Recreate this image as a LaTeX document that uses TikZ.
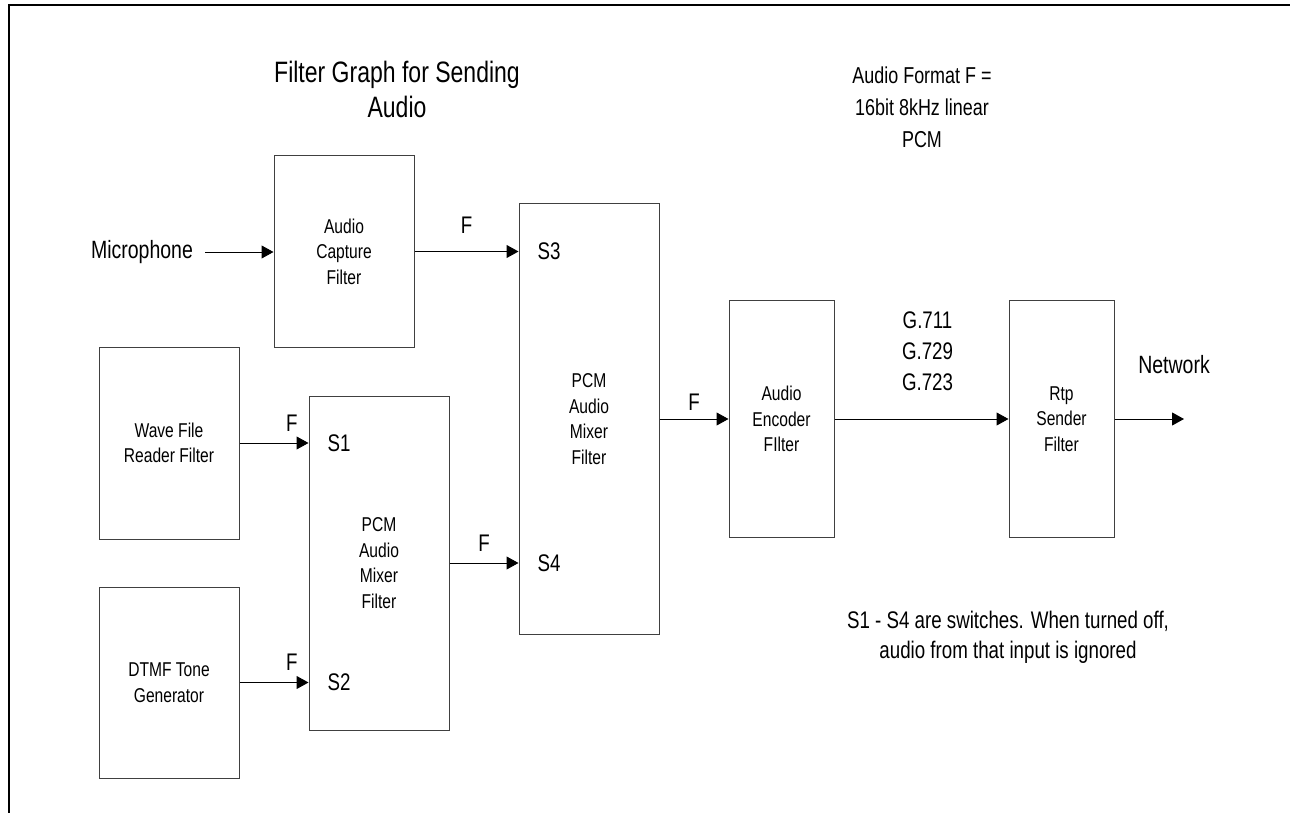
\documentclass[tikz,border=0pt]{standalone}
\usepackage{fontspec}
\setmainfont{Liberation Sans}[FakeStretch=0.78]
\usetikzlibrary{arrows.meta,positioning}

\begin{document}
\begin{tikzpicture}[x=1pt, y=-1pt,
    filterbox/.style={draw=black!75, line width=1pt, rectangle, minimum width=140pt, align=center, inner sep=0pt, font=\fontsize{20}{25.5}\selectfont},
    flow/.style={-{Triangle[length=12pt,width=13pt]}, line width=1pt},
    lbl/.style={font=\fontsize{24}{31}\selectfont, align=center},
    flabel/.style={lbl, midway, above=8pt},
    slabel/.style={lbl, anchor=west, inner sep=0pt, xshift=19pt},
    note/.style={font=\fontsize{23}{31}\selectfont, align=center}]
    \useasboundingbox (0,0) rectangle (1290,813);
    % page frame
    \draw[line width=2.5pt] (1290,5) -- (9,5) -- (9,813);

    % Define nodes
    \node[font=\fontsize{29.5}{35}\selectfont, align=center] (title) at (397,89) {Filter Graph for Sending\\Audio};
    \node[note, font=\fontsize{23}{32}\selectfont] (fmt) at (922,107) {Audio Format F =\\16bit 8kHz linear\\PCM};
    \node[note, font=\fontsize{24}{30}\selectfont] (swnote) at (1008,637) {S1 - S4 are switches. When turned off,\\audio from that input is ignored};

    \node[filterbox, minimum height=191pt] (cap) at (344,251.5) {Audio\\Capture\\Filter};
    \node[filterbox, minimum height=192pt] (wave) at (169,443) {Wave File\\Reader Filter};
    \node[filterbox, minimum height=191pt] (dtmf) at (169,682.5) {DTMF Tone\\Generator};
    \node[filterbox, minimum height=334pt] (mixa) at (379,563) {PCM\\Audio\\Mixer\\Filter};
    \node[filterbox, minimum height=430pt] (mixb) at (589,419) {PCM\\Audio\\Mixer\\Filter};
    \node[filterbox, minimum width=105pt, minimum height=237pt] (enc) at (781.5,419) {Audio\\Encoder\\FIlter};
    \node[filterbox, minimum width=105pt, minimum height=237pt] (rtp) at (1061.5,419) {Rtp\\Sender\\Filter};

    \node[lbl, font=\fontsize{25}{30}\selectfont, inner xsep=12pt] (mic) at (142,252) {Microphone};
    \node[lbl, font=\fontsize{25}{30}\selectfont] (network) at (1174,365) {Network};
    \coordinate (net) at (1184,419);

    \node[slabel] (s1) at (wave.east -| mixa.west) {S1};
    \node[slabel] (s2) at (dtmf.east -| mixa.west) {S2};
    \node[slabel] (s3) at (cap.east -| mixb.west) {S3};
    \node[slabel] (s4) at (mixa.east -| mixb.west) {S4};

    % Define connections
    \draw[flow] (mic.east) -- (mic.east -| cap.west);
    \draw[flow] (cap.east) -- (cap.east -| mixb.west) node[flabel, above=14pt] {F};
    \draw[flow] (wave.east) -- (wave.east -| mixa.west) node[flabel, pos=0.76] {F};
    \draw[flow] (dtmf.east) -- (dtmf.east -| mixa.west) node[flabel, pos=0.76] {F};
    \draw[flow] (mixa.east) -- (mixa.east -| mixb.west) node[flabel] {F};
    \draw[flow] (mixb.east) -- (enc.west) node[flabel, above=5pt] {F};
    \draw[flow] (enc.east) -- (rtp.west) node[lbl, midway, above=24pt, xshift=6pt] {G.711\\G.729\\G.723};
    \draw[flow] (rtp.east) -- (net);
\end{tikzpicture}
\end{document}
